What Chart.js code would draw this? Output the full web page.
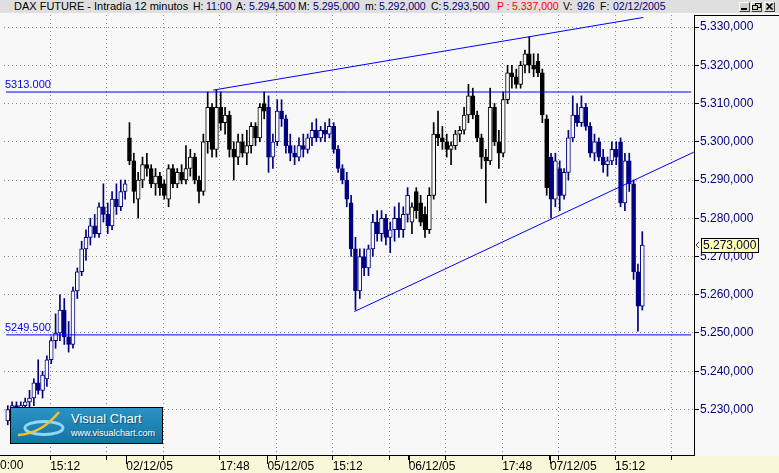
<!DOCTYPE html>
<html><head><meta charset="utf-8">
<title>DAX FUTURE - Intradía 12 minutos</title>
<script src="https://cdn.jsdelivr.net/npm/chart.js@4.4.1/dist/chart.umd.min.js"></script>
<style>
html,body{margin:0;padding:0;}
body{width:779px;height:473px;overflow:hidden;position:relative;background:#f8f8f8;font-family:"Liberation Sans",Arial,sans-serif;}
#hdr{position:absolute;left:0;top:0;width:779px;height:13px;background:#dfdfdf;font-size:10.5px;line-height:15px;white-space:pre;color:#000;z-index:3;}
#hdr span{position:absolute;top:-1px;}
#hdr .tt{font-size:11px;}
#hdr .v{color:#000080}
#hdr .r{color:#ff0000}
.btn{position:absolute;top:2px;width:9px;height:8px;background:#d4d0c8;border:1px solid;border-color:#fff #404040 #404040 #fff;}
.btn svg{position:absolute;left:0;top:0}
#band{position:absolute;left:0;top:456px;width:779px;height:17px;background:#f8f8d8;z-index:0;}
#rtop{position:absolute;left:694px;top:15px;width:85px;height:1px;background:#000;z-index:2;}
#xl{position:absolute;left:0;top:455px;width:5px;height:1px;background:#000;z-index:2;}
#cv{position:absolute;left:0;top:0;z-index:1;}
#logo{position:absolute;left:10px;top:407px;width:151px;height:35px;border:1px solid #000;background:linear-gradient(to bottom,#2b93c4,#1474a4);z-index:2;color:#fff;overflow:hidden;}
#logo .t1{position:absolute;left:60px;top:3px;font-size:13px;line-height:15px;white-space:nowrap;text-shadow:1px 1px 1px rgba(0,0,0,.45);}
#logo .t2{position:absolute;left:60px;top:20px;font-size:9px;line-height:11px;white-space:nowrap;text-shadow:1px 1px 0 rgba(0,0,0,.35);}
#logo svg{position:absolute;left:0;top:0}
</style>
</head>
<body>
<div id="band"></div>
<canvas id="cv" width="779" height="473"></canvas>
<div id="xl"></div>
<div id="rtop"></div>
<div id="hdr"><span class="tt" style="left:14px">DAX FUTURE - Intradía 12 minutos</span><span style="left:193px">H:</span><span class="v" style="left:206px">11:00</span><span style="left:236px">A:</span><span class="v" style="left:249px">5.294,500</span><span style="left:298px">M:</span><span class="v" style="left:313px">5.295,000</span><span style="left:365px">m:</span><span class="v" style="left:379px">5.292,000</span><span style="left:431px">C:</span><span class="v" style="left:443px">5.293,500</span><span class="r" style="left:497px">P :</span><span class="r" style="left:512px">5.337,000</span><span style="left:563px">V:</span><span class="v" style="left:577px">926</span><span style="left:600px">F:</span><span class="v" style="left:613px">02/12/2005</span>
<div class="btn" style="left:739px"><svg width="9" height="8"><rect x="1" y="5" width="6" height="2" fill="#000"/></svg></div>
<div class="btn" style="left:751px"><svg width="9" height="8"><rect x="3.5" y="0.5" width="5" height="4" fill="none" stroke="#000"/><rect x="0.5" y="2.5" width="5" height="4" fill="#d4d0c8" stroke="#000"/></svg></div>
<div class="btn" style="left:764px"><svg width="9" height="8"><path d="M1.5 0.5 L7.5 6.5 M7.5 0.5 L1.5 6.5" stroke="#000" stroke-width="1.6"/></svg></div>
</div>
<div id="logo">
<svg width="60" height="35"><ellipse cx="33" cy="20" rx="19" ry="6.5" fill="none" stroke="#8fd6f7" stroke-width="3"/><path d="M7 27 Q30 26 48 4" fill="none" stroke="#f2c12e" stroke-width="2.5"/></svg>
<div class="t1">Visual Chart</div>
<div class="t2">www.visualchart.com</div>
</div>
<script>
// ---------- data (24-minute candles) ----------
const O = [5227,5230,5231,5230,5231,5232,5233,5237,5235,5238,5243,5248,5250,5256,5249,5247,5261,5266,5272,5275,5278,5276,5283,5281,5278,5285,5283,5287,
5301,5295,5285,5290,5294,5293,5289,5291,5289,5285,5293,5289,5292,5290,5293,5296,5290,5287,5300,5309,5298,5309,5305,5307,5298,5296,5300,5297,5299,5304,5301,5310,
5309,5296,5300,5308,5306,5299,5297,5296,5299,5298,5301,5303,5301,5303,5302,5304,5298,5293,5290,5284,5272,5261,5270,5267,5272,5279,5276,5280,5275,5277,5280,5277,5281,
5279,5287,5284,5281,5277,5286,5302,5301,5300,5298,5299,5302,5303,5307,5312,5307,5301,5296,5295,5309,5300,5297,5311,5318,5317,5315,5320,5323,5320,5321,5318,5306,
5296,5285,5293,5286,5292,5301,5307,5305,5309,5304,5297,5300,5296,5294,5295,5298,5300,5284,5295,5289,5266,5257];
const H = [5231,5232,5232,5232,5233,5235,5238,5243,5240,5244,5249,5255,5260,5259,5253,5262,5267,5274,5277,5280,5281,5284,5289,5284,5287,5289,5290,5290,
5305,5297,5292,5296,5297,5294,5293,5292,5290,5294,5294,5293,5294,5299,5298,5297,5291,5302,5313,5310,5313.7,5313,5309,5308,5300,5302,5302,5303,5305,5305,5310,5313,
5312,5302,5311,5311,5307,5302,5299,5301,5302,5302,5305,5306,5304,5305,5306,5305,5299,5294,5292,5286,5275,5272,5272,5273,5281,5282,5282,5281,5279,5283,5284,5283,5288,
5284,5288,5286,5283,5288,5305,5308,5304,5302,5300,5303,5304,5309,5315,5314,5308,5302,5298,5314,5310,5303,5313,5320,5320,5319,5321,5324,5327.5,5323,5323,5319,5307,
5297,5297,5295,5293,5303,5312,5310,5312,5310,5305,5302,5301,5298,5296,5300,5300,5301,5297,5297,5290,5268,5276.5];
const L = [5226,5228,5229,5228,5229,5230,5231,5234,5233,5236,5242,5246,5248,5247,5245,5246,5259,5265,5269,5273,5275,5275,5279,5276,5277,5281,5282,5285,
5294,5284,5280,5288,5291,5288,5286,5286,5285,5283,5288,5288,5289,5289,5291,5289,5284,5286,5297,5296,5296,5303,5302,5296,5290,5294,5296,5294,5297,5299,5300,5306,
5292,5293,5299,5304,5297,5295,5294,5295,5296,5297,5299,5300,5300,5300,5301,5297,5292,5289,5283,5270,5256,5259,5265,5265,5270,5274,5274,5273,5271,5274,5275,5275,5279,
5276,5280,5278,5275,5276,5285,5299,5298,5296,5294,5298,5300,5302,5305,5306,5300,5293,5284,5294,5299,5293,5296,5310,5314,5314,5314,5318,5318,5317,5317,5305,5286,
5280,5283,5282,5285,5290,5300,5304,5304,5303,5296,5295,5295,5292,5291,5294,5294,5283,5282,5287,5264,5250.5,5256];
const C = [5230,5231,5230,5231,5232,5233,5237,5235,5239,5243,5248,5250,5256,5249,5247,5261,5266,5272,5275,5278,5276,5283,5281,5278,5285,5283,5287,5289,
5295,5287,5290,5294,5293,5289,5291,5288,5286,5293,5289,5292,5290,5293,5296,5290,5287,5300,5309,5298,5309,5305,5307,5298,5296,5300,5297,5299,5304,5301,5309,5308,
5296,5300,5308,5306,5299,5297,5296,5299,5298,5301,5303,5301,5303,5302,5304,5298,5293,5290,5285,5272,5261,5270,5267,5272,5279,5276,5280,5275,5277,5280,5277,5281,5286,
5283,5282,5279,5277,5286,5302,5301,5300,5298,5299,5302,5303,5307,5312,5307,5301,5296,5295,5309,5300,5297,5311,5318,5317,5315,5320,5323,5320,5319,5318,5307,5288,
5285,5295,5286,5292,5301,5307,5305,5309,5304,5297,5300,5296,5294,5295,5298,5296,5284,5295,5289,5266,5257,5273];

// trading sessions: first candle of each day
const sessionStart = [0, 28, 60, 93, 125];
const sessionColors = ['#000080', '#000000'];

// x axis: bar positions (12-minute bar index) of tick marks and their labels
const timeTicks = [20, 46, 72, 98, 124, 150, 176, 202, 228, 254, 280, 306];
const timeLabels = ['15:12', '', '', '17:48', '', '15:12', '', '', '17:48', '', '15:12', ''];
const dateTicks = [55, 120, 185, 250];
const dateLabels = ['02/12/05', '05/12/05', '06/12/05', '07/12/05'];
const firstLabel = '0:00';

// y axis ticks
const yTicks = [5230, 5240, 5250, 5260, 5270, 5280, 5290, 5300, 5310, 5320, 5330];

// drawn studies
const hLines = [5313.0, 5249.5];
const hLineLabels = ['5313.000', '5249.500'];
const hLineX = [-0.3, 315];
const upperTrendX = [95, 293];
const upperTrendY = [5313.5, 5332.5];
const lowerTrendX = [160, 320];
const lowerTrendY = [5255.6, 5298.3];

// ---------- build ----------
const BG = '#f8f8f8';
const FONT = '"Liberation Sans", Arial, sans-serif';
Chart.defaults.font.family = FONT;

function colorOf(k) {
  let d = 0;
  for (let j = 0; j < sessionStart.length; j++) if (k >= sessionStart[j]) d = j;
  return sessionColors[d % 2];
}
const xOf = k => 2 * k + 0.5;
const cols = O.map((o, k) => colorOf(k));

function fmt(v) {
  const s = Number(v).toFixed(3).split('.');
  return s[0].replace(/\B(?=(\d{3})+(?!\d))/g, '.') + ',' + s[1];
}

const xTickPos = timeTicks.concat(dateTicks).slice().sort((a, b) => a - b);
const xLabelAt = {};
timeTicks.forEach((t, i) => xLabelAt[t] = timeLabels[i]);
dateTicks.forEach((t, i) => xLabelAt[t] = dateLabels[i]);

const lineStyle = {borderColor: '#0000ff', borderWidth: 1, pointRadius: 0, tension: 0};
const datasets = [
  Object.assign({type: 'line', label: 'resistance', order: 0,
    data: [{x: hLineX[0], y: hLines[0]}, {x: hLineX[1], y: hLines[0]}]}, lineStyle),
  Object.assign({type: 'line', label: 'support', order: 0,
    data: [{x: hLineX[0], y: hLines[1]}, {x: hLineX[1], y: hLines[1]}]}, lineStyle),
  Object.assign({type: 'line', label: 'upper trend', order: 0,
    data: upperTrendX.map((x, i) => ({x, y: upperTrendY[i]}))}, lineStyle),
  Object.assign({type: 'line', label: 'lower trend', order: 0,
    data: lowerTrendX.map((x, i) => ({x, y: lowerTrendY[i]}))}, lineStyle),
  {
    type: 'bar', label: 'bodies', order: 1, grouped: false,
    data: O.map((o, k) => ({x: xOf(k), y: [Math.min(o, C[k]), Math.max(o, C[k])]})),
    backgroundColor: O.map((o, k) => C[k] >= o ? BG : cols[k]),
    borderColor: cols, borderWidth: 1, borderSkipped: false,
    barThickness: 4, minBarLength: 1
  },
  {
    type: 'bar', label: 'wicks', order: 2, grouped: false,
    data: O.map((o, k) => ({x: xOf(k), y: [L[k], H[k]]})),
    backgroundColor: cols, borderWidth: 0, barThickness: 1
  }
];

const overlay = {
  id: 'overlay',
  afterDraw(chart) {
    const {ctx, chartArea: a, scales: {x, y}} = chart;
    ctx.save();
    // taller date ticks
    ctx.strokeStyle = '#000'; ctx.lineWidth = 1;
    dateTicks.forEach(v => {
      const px = Math.round(x.getPixelForValue(v)) + 0.5;
      ctx.beginPath(); ctx.moveTo(px, a.bottom); ctx.lineTo(px, a.bottom + 9); ctx.stroke();
    });
    // clipped first label
    ctx.font = '12px ' + FONT; ctx.fillStyle = '#000';
    ctx.textBaseline = 'middle'; ctx.textAlign = 'left';
    ctx.fillText(firstLabel, 0, a.bottom + 11);
    // horizontal line labels
    ctx.font = '11px ' + FONT; ctx.fillStyle = '#0000ff'; ctx.textBaseline = 'alphabetic';
    hLines.forEach((v, i) => ctx.fillText(hLineLabels[i], 5, y.getPixelForValue(v) - 4));
    // last price marker
    const last = C[C.length - 1];
    const py = Math.round(y.getPixelForValue(last));
    ctx.fillStyle = '#ffffb0'; ctx.strokeStyle = '#000';
    ctx.fillRect(a.right + 7, py - 7, 58, 14);
    ctx.strokeRect(a.right + 7.5, py - 6.5, 57, 14);
    ctx.beginPath(); ctx.moveTo(a.right + 5, py - 3); ctx.lineTo(a.right + 2, py); ctx.lineTo(a.right + 5, py + 3);
    ctx.strokeStyle = '#404040'; ctx.stroke();
    ctx.font = '12px ' + FONT; ctx.fillStyle = '#000040'; ctx.textBaseline = 'middle';
    ctx.fillText(fmt(last), a.right + 9, py + 1);
    ctx.restore();
  }
};

new Chart(document.getElementById('cv'), {
  type: 'bar',
  data: {datasets},
  options: {
    responsive: false, animation: false, devicePixelRatio: 1,
    layout: {padding: {left: 4, top: 15, right: 0, bottom: 0}},
    plugins: {legend: {display: false}, tooltip: {enabled: false}},
    scales: {
      x: {
        type: 'linear', min: -1.24, max: 316.3, offset: false,
        afterBuildTicks: s => { s.ticks = xTickPos.map(v => ({value: v})); },
        afterFit: s => { s.height = 18; },
        ticks: {autoSkip: false, maxRotation: 0, minRotation: 0, align: 'start', padding: -1,
          color: '#000', font: {size: 12}, callback: v => (xLabelAt[v] !== undefined ? xLabelAt[v] : '')},
        grid: {offset: false, tickLength: 5, tickColor: '#000', lineWidth: 1,
          color: c => (c.tick && dateTicks.includes(c.tick.value)) ? 'rgba(0,0,0,0)' : '#8c8c8c'},
        border: {color: '#000', width: 1, dash: [1, 3]}
      },
      y: {
        position: 'right', min: 5218.1, max: 5333.14,
        afterBuildTicks: s => { s.ticks = yTicks.map(v => ({value: v})); },
        afterFit: s => { s.width = 85; },
        ticks: {color: '#000080', font: {size: 12}, padding: 1, callback: v => fmt(v)},
        grid: {tickLength: 5, tickColor: '#000', color: '#8c8c8c', lineWidth: 1},
        border: {color: '#000', width: 1, dash: [1, 3]}
      }
    }
  },
  plugins: [overlay]
});
</script>
</body></html>
